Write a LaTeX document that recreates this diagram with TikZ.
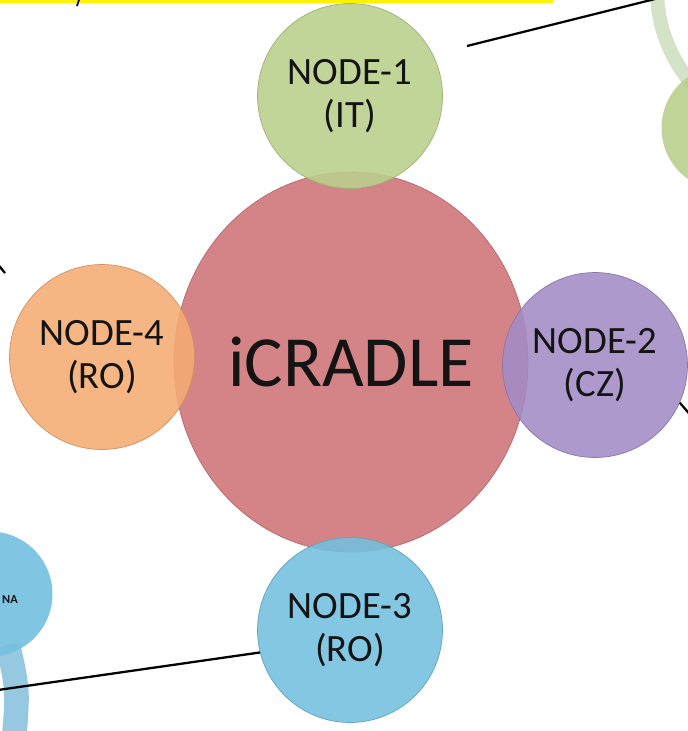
\documentclass[tikz,border=0pt]{standalone}
\usepackage{fontspec}
\setmainfont{Carlito}
\usepackage{tikz}
\usetikzlibrary{positioning}
\usetikzlibrary{shapes.geometric}

\definecolor{hubred}{RGB}{210,125,128}
\definecolor{sitegreen}{RGB}{186,208,140}
\definecolor{siteorange}{RGB}{245,172,115}
\definecolor{sitepurple}{RGB}{162,140,198}
\definecolor{siteblue}{RGB}{115,192,224}
\definecolor{palegreen}{RGB}{212,226,200}
\definecolor{paleblue}{RGB}{150,200,225}
\definecolor{inkgrey}{RGB}{20,20,20}

\tikzset{
hub/.style={ellipse, inner sep=0pt, minimum width=7.08cm, minimum height=7.6cm,
  fill=hubred, draw=hubred!85!black, fill opacity=0.95, text opacity=1,
  text=inkgrey, font=\fontsize{41}{41}\selectfont},
site/.style={circle, inner sep=0pt, minimum size=3.7cm, align=center,
  fill=#1, draw=#1!85!black, fill opacity=0.88, text opacity=1,
  text=inkgrey, font=\fontsize{22}{24.5}\selectfont},
link/.style={black, line width=1.3pt}
}

\begin{document}
\begin{tikzpicture}[x=0.02cm,y=-0.02cm]
\useasboundingbox (0,0) rectangle (688,731);
\clip (0,0) rectangle (688,731);
\fill[white] (0,0) rectangle (688,731);

% top banner left over from the slide
\fill[yellow] (0,0) rectangle (553,3);
\draw[blue!40!black, line width=1pt] (79,0) -- (77,6);

% things cut off at the edges
\draw[palegreen, line width=8pt] (800,-10) circle (143);
\node[circle, minimum size=2.5cm, fill=sitegreen, fill opacity=0.9] (far1) at (724,128) {};
\draw[paleblue, line width=14pt] (8,645) .. controls (18,690) .. (14,740);
\node[circle, minimum size=2.5cm, fill=siteblue, fill opacity=0.9] (far3) at (-10,594) {};
\node[font=\bfseries\fontsize{7}{7}\selectfont, text=inkgrey] (far3lbl) at (10,600) {NA};

% the hub and its four nodes
\node[hub] (hub) at (351,362) {iCRADLE};
\node[site=sitegreen] (n1) at (350,96) {NODE-1\\(IT)};
\node[site=sitepurple] (n2) at (595,365) {NODE-2\\(CZ)};
\node[site=siteblue] (n3) at (350,630) {NODE-3\\(RO)};
\node[site=siteorange] (n4) at (102,357) {NODE-4\\(RO)};

% links out of the picture
\coordinate (t1a) at (467,46);
\coordinate (t1b) at (655,-1);
\coordinate (t2) at (700,426);
\coordinate (t3) at (-2,690);
\coordinate (t4a) at (-4,262);
\coordinate (t4b) at (5,273);
\draw[link] (t1a) -- (t1b);
\draw[link] (n2.-24) -- (t2);
\draw[link] (n3.194) -- (t3);
\draw[link] (t4a) -- (t4b);
\end{tikzpicture}
\end{document}
